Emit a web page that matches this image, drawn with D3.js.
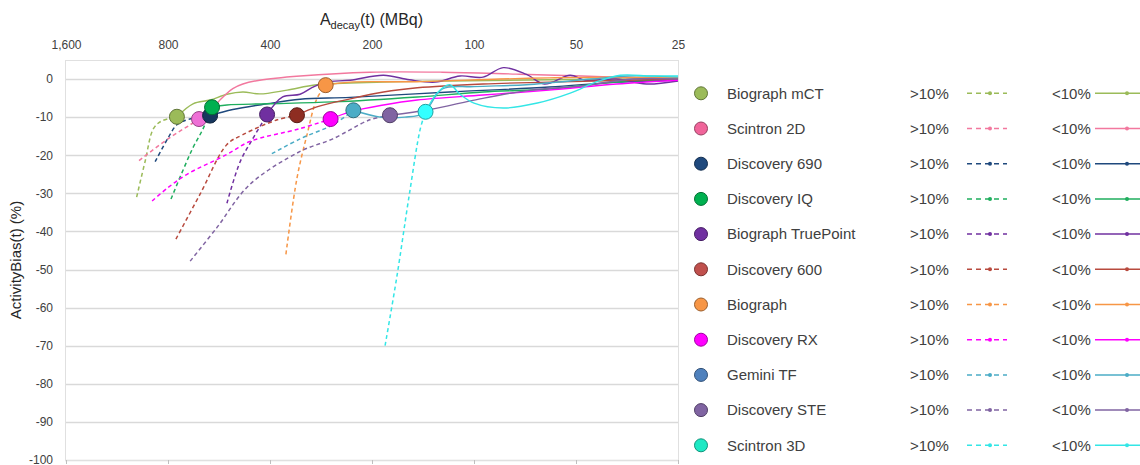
<!DOCTYPE html>
<html>
<head>
<meta charset="utf-8">
<script src="https://cdn.jsdelivr.net/npm/d3@7"></script>
<style>
  body { margin: 0; background: #fff; }
  svg { display: block; font-family: 'Liberation Sans', Arial, sans-serif; }
  .axis text { fill: #404040; font-size: 12px; }
  .legend text { fill: #404040; font-size: 15px; }
</style>
</head>
<body>
<svg width="1140" height="465"></svg>
<script>
var devices = ['Biograph mCT', 'Scintron 2D', 'Discovery 690', 'Discovery IQ', 'Biograph TruePoint',
               'Discovery 600', 'Biograph', 'Discovery RX', 'Gemini TF', 'Discovery STE', 'Scintron 3D'];

var lineColors   = ['#9bbb59', '#f2789e', '#1f497d', '#1fae5e', '#7030a0', '#b84a3e',
                    '#f79646', '#ff00ff', '#4bacc6', '#8064a2', '#33e6e6'];
var markerFills  = ['#9bbb59', '#ee6fd6', '#17375e', '#00b050', '#7030a0', '#8e2d22',
                    '#f79646', '#ff00ff', '#4bacc6', '#8064a2', '#33ffff'];
var legendFills  = ['#9bbb59', '#f0649a', '#1f497d', '#00b050', '#7030a0', '#c0504d',
                    '#f79646', '#ff00ff', '#4f81bd', '#8064a2', '#1de9c4'];

var xTicks = [1600, 800, 400, 200, 100, 50, 25];
var yTicks = [0, -10, -20, -30, -40, -50, -60, -70, -80, -90, -100];

// [A_decay (MBq), bias (%)] while bias is beyond 10 % (dashed), ends at the marker
var over10 = [
  [[990, -31], [934, -21.5], [883, -13], [835, -11], [753, -9.9]],
  [[974, -21.4], [800, -15.7], [688, -12], [648, -10.5]],
  [[873, -21.7], [800, -15.5], [753, -12], [690, -10.5], [601, -9.6]],
  [[784, -31.5], [723, -24], [675, -18], [630, -13], [593, -7.4]],
  [[536, -32.6], [490, -21.7], [450, -15.7], [420, -11.2], [408, -9.3]],
  [[758, -42], [644, -30.3], [536, -17.2], [481, -14.6], [381, -10.7], [333, -9.5]],
  [[359, -46], [333, -26], [311, -14.6], [291, -5.2], [274, -1.6]],
  [[891, -32], [800, -28.5], [703, -25], [536, -19.8], [459, -16.4], [326, -13], [265, -10.5]],
  [[395, -19.6], [326, -15.7], [261, -12], [227, -8.2]],
  [[688, -47.8], [574, -39], [459, -27.7], [326, -19], [261, -15.7], [203, -10.7], [177, -9.5]],
  [[183, -70], [169, -52], [155, -30], [144, -13], [139, -8.6]]
];

// bias within 10 % (solid), starts at the marker
var under10 = [
  [[753, -9.9], [675, -6.5], [601, -5.5], [536, -4], [481, -3.4], [429, -3.9], [356, -2.9], [291, -1.5], [185, -0.8], [120, -0.5], [60, -0.2], [25, 0.2]],
  [[648, -10.5], [601, -8.5], [562, -5.5], [515, -2.5], [481, -1.3], [429, -0.3], [326, 0.8], [203, 1.8], [124, 1.8], [75, 1.3], [48, 0.8], [34, 0.3], [25, 0]],
  [[601, -9.6], [515, -8], [408, -6.5], [326, -5.3], [232, -4.8], [118, -3.4], [60, -2.1], [38, -0.8], [25, -0.3]],
  [[593, -7.4], [536, -6.8], [408, -6.5], [261, -6], [147, -4.7], [94, -3.4], [60, -2.6], [38, -0.8], [25, 0]],
  [[408, -9.3], [367, -4.7], [326, -4], [300, -2.2], [274, -0.8], [232, -0.3], [185, 1], [155, -0.2], [130, -0.8], [110, 0.8], [94, 0.5], [82, 3], [70, 1.2], [62, -1.3], [52, 1], [47, -0.3], [38, 0], [31, -1.3], [25, -0.5]],
  [[333, -9.5], [291, -7.3], [232, -5.2], [185, -3.4], [147, -2.3], [94, -1.3], [60, -0.8], [25, 0]],
  [[274, -1.6], [232, -0.8], [147, -0.7], [84, 0], [60, 0.3], [40, 0.5], [25, 0.3]],
  [[265, -10.5], [232, -8.6], [185, -6.8], [147, -5.5], [94, -4.2], [60, -2.9], [38, -1.3], [25, -0.3]],
  [[227, -8.2], [189, -10], [160, -10], [141, -9], [124, -2.6], [100, -2], [70, -1.5], [45, 0], [35, 0.8], [25, 0.5]],
  [[177, -9.5], [135, -8], [96, -5.2], [68, -2.9], [48, -1.8], [34, 0], [25, 0]],
  [[139, -8.6], [128, -3.5], [118, -1.5], [110, -4], [100, -6.3], [82, -7.6], [65, -6.3], [52, -3.7], [43.4, -0.7], [37, 1], [30, 0.8], [25, 0.8]]
];

var svg = d3.select('svg'),
    pLeft = 65, pRight = 678, pTop = 60, pBottom = 460;

var x = d3.scaleLog().base(2)
      .domain([1600, 25])
      .range([66, 678]),
    y = d3.scaleLinear()
      .domain([-100, 5])
      .range([pBottom, pTop]);

// gridlines + frame
svg.append('g')
    .attr('class', 'grid')
  .selectAll('line')
    .data(yTicks)
    .enter()
    .append('line')
    .attr('x1', pLeft)
    .attr('x2', pRight)
    .attr('y1', function(d){ return Math.round(y(d)) + 0.5; })
    .attr('y2', function(d){ return Math.round(y(d)) + 0.5; })
    .attr('stroke', '#d9d9d9')
    .attr('stroke-width', 1.3);

svg.append('rect')
    .attr('x', pLeft + 0.5)
    .attr('y', pTop + 0.5)
    .attr('width', pRight - pLeft)
    .attr('height', pBottom - pTop)
    .attr('fill', 'none')
    .attr('stroke', '#e0e0e0');

// axes
var xAxis = svg.append('g')
    .attr('class', 'axis')
    .attr('transform', 'translate(0,' + pTop + ')')
    .call(d3.axisTop(x).tickValues(xTicks).tickFormat(d3.format(',')).tickSize(0).tickPadding(11));
xAxis.select('.domain').remove();

var xTickMarks = svg.append('g')
    .attr('transform', 'translate(0,' + pBottom + ')')
    .call(d3.axisBottom(x).tickValues(xTicks).tickFormat('').tickSize(4));
xTickMarks.select('.domain').remove();
xTickMarks.selectAll('line').attr('stroke', '#bfbfbf');

var yAxis = svg.append('g')
    .attr('class', 'axis')
    .attr('transform', 'translate(' + pLeft + ',0)')
    .call(d3.axisLeft(y).tickValues(yTicks).tickSize(0).tickPadding(12)
      .tickFormat(function(d){ return String(d); }));
yAxis.select('.domain').remove();

// titles
var title = svg.append('text')
    .attr('x', (pLeft + pRight) / 2)
    .attr('y', 25)
    .attr('text-anchor', 'middle')
    .attr('fill', '#262626')
    .style('font-size', '16px');
title.append('tspan').text('A');
title.append('tspan').attr('dy', 4).style('font-size', '11px').text('decay');
title.append('tspan').attr('dy', -4).text('(t) (MBq)');

svg.append('text')
    .attr('transform', 'translate(21,' + ((pTop + pBottom) / 2) + ') rotate(-90)')
    .attr('text-anchor', 'middle')
    .attr('fill', '#262626')
    .style('font-size', '15px')
    .text('ActivityBias(t) (%)');

// series
var line = d3.line()
    .x(function(d){ return x(d[0]); })
    .y(function(d){ return y(d[1]); })
    .curve(d3.curveCatmullRom.alpha(0.5));

var plot = svg.append('g').attr('class', 'series');

plot.selectAll('path.over')
    .data(over10)
    .enter()
    .append('path')
    .attr('class', 'over')
    .attr('d', line)
    .attr('fill', 'none')
    .attr('stroke', function(d, i){ return lineColors[i]; })
    .attr('stroke-width', 1.5)
    .attr('stroke-dasharray', '4,3');

plot.selectAll('path.under')
    .data(under10)
    .enter()
    .append('path')
    .attr('class', 'under')
    .attr('d', line)
    .attr('fill', 'none')
    .attr('stroke', function(d, i){ return lineColors[i]; })
    .attr('stroke-width', 1.4);

plot.selectAll('circle')
    .data(under10)
    .enter()
    .append('circle')
    .attr('cx', function(d){ return x(d[0][0]); })
    .attr('cy', function(d){ return y(d[0][1]); })
    .attr('r', 7.5)
    .attr('fill', function(d, i){ return markerFills[i]; })
    .attr('stroke', function(d, i){ return d3.color(markerFills[i]).darker(1.3); })
    .attr('stroke-width', 1);

// legend
var legend = svg.append('g').attr('class', 'legend')
  .selectAll('g')
    .data(devices)
    .enter()
    .append('g')
    .attr('transform', function(d, i){ return 'translate(0,' + (93.3 + i * 35.2) + ')'; });

legend.append('circle')
    .attr('cx', 701)
    .attr('r', 6.5)
    .attr('fill', function(d, i){ return legendFills[i]; })
    .attr('stroke', function(d, i){ return d3.color(legendFills[i]).darker(1.3); });

legend.append('text')
    .attr('x', 727)
    .attr('dy', '0.35em')
    .text(function(d){ return d; });

legend.append('text')
    .attr('x', 910)
    .attr('dy', '0.35em')
    .text('>10%');

legend.append('line')
    .attr('x1', 967).attr('x2', 1007)
    .attr('stroke', function(d, i){ return lineColors[i]; })
    .attr('stroke-width', 1.5)
    .attr('stroke-dasharray', '5,4');

legend.append('circle')
    .attr('cx', 990)
    .attr('r', 2)
    .attr('fill', function(d, i){ return lineColors[i]; });

legend.append('text')
    .attr('x', 1052)
    .attr('dy', '0.35em')
    .text('<10%');

legend.append('line')
    .attr('x1', 1095).attr('x2', 1145)
    .attr('stroke', function(d, i){ return lineColors[i]; })
    .attr('stroke-width', 1.5);

legend.append('circle')
    .attr('cx', 1127)
    .attr('r', 2)
    .attr('fill', function(d, i){ return lineColors[i]; });
</script>
</body>
</html>
